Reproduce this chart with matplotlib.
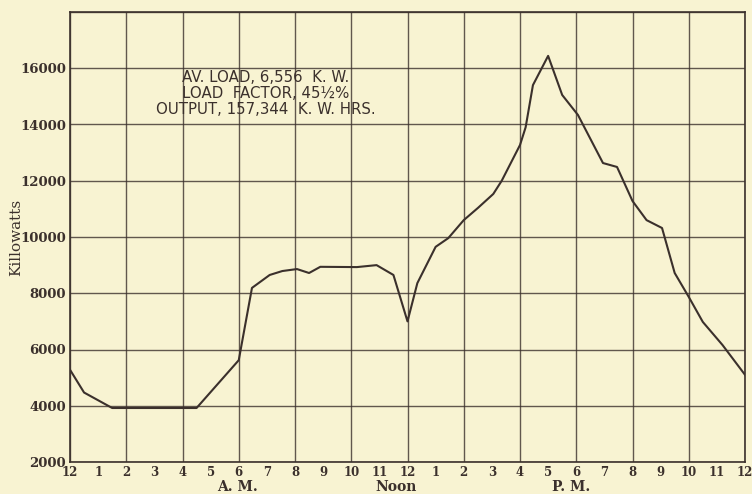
import matplotlib.pyplot as plt

# hours after midnight, load in kilowatts
hours = [0, 0.5, 1.5, 4.5, 6.0, 6.47, 7.1, 7.55, 8.07, 8.5, 8.9, 10.2, 10.9, 11.5,
         12.0, 12.35, 13.0, 13.45, 14.0, 14.5, 15.05, 15.35, 16.0, 16.2, 16.46,
         17.0, 17.5, 18.06, 18.95, 19.45, 20.0, 20.5, 21.05, 21.5, 22.0, 22.5,
         23.2, 24.0]
kw = [5280, 4470, 3920, 3920, 5620, 8190, 8650, 8790, 8860, 8720, 8940, 8930, 9000, 8650,
      7000, 8360, 9650, 9960, 10600, 11030, 11530, 12000, 13270, 13900, 15400,
      16440, 15050, 14340, 12630, 12490, 11280, 10600, 10320, 8720, 7870, 6980,
      6160, 5100]

hour_labels = ['12', '1', '2', '3', '4', '5', '6', '7', '8', '9', '10', '11',
               '12', '1', '2', '3', '4', '5', '6', '7', '8', '9', '10', '11', '12']
y_ticks = [2000, 4000, 6000, 8000, 10000, 12000, 14000, 16000]

bg = '#f8f3d2'
ink = '#3b302c'

fig = plt.figure(figsize=(7.52, 4.94), dpi=100, facecolor=bg)
ax = fig.add_axes([70 / 752, 32 / 494, 675 / 752, 450 / 494], facecolor=bg)

for h in range(0, 25, 2):
    ax.axvline(h, color=ink, lw=1.0, alpha=0.8)
for v in range(2000, 18001, 2000):
    ax.axhline(v, color=ink, lw=1.0, alpha=0.8)

ax.plot(hours, kw, color=ink, lw=1.5)

ax.set_xlim(0, 24)
ax.set_ylim(2000, 18000)
ax.set_xticks(range(25))
ax.set_xticklabels(hour_labels, family='DejaVu Serif', weight='bold', fontsize=8.5, color=ink)
ax.set_yticks(y_ticks)
ax.set_yticklabels([str(v) for v in y_ticks], family='DejaVu Serif', weight='bold',
                   fontsize=9.5, color=ink)
ax.tick_params(length=0, pad=3)
for s in ax.spines.values():
    s.set_color(ink)
    s.set_linewidth(1.2)

ax.set_ylabel('Killowatts', family='DejaVu Serif', fontsize=11, color=ink)
ax.yaxis.set_label_coords(-0.07, 0.5)

note = 'AV. LOAD, 6,556  K. W.\nLOAD  FACTOR, 45½%\nOUTPUT, 157,344  K. W. HRS.'
ax.text(6.95, 15930, note, ha='center', va='top', family='DejaVu Sans', fontsize=10.8,
        color=ink, linespacing=1.08)

for x, lab in [(5.95, 'A. M.'), (11.6, 'Noon'), (17.8, 'P. M.')]:
    ax.text(x, -0.056, lab, transform=ax.get_xaxis_transform(), ha='center', va='center',
            family='DejaVu Serif', weight='bold', fontsize=10, color=ink)

fig.savefig('out.png', dpi=100, facecolor=bg)
